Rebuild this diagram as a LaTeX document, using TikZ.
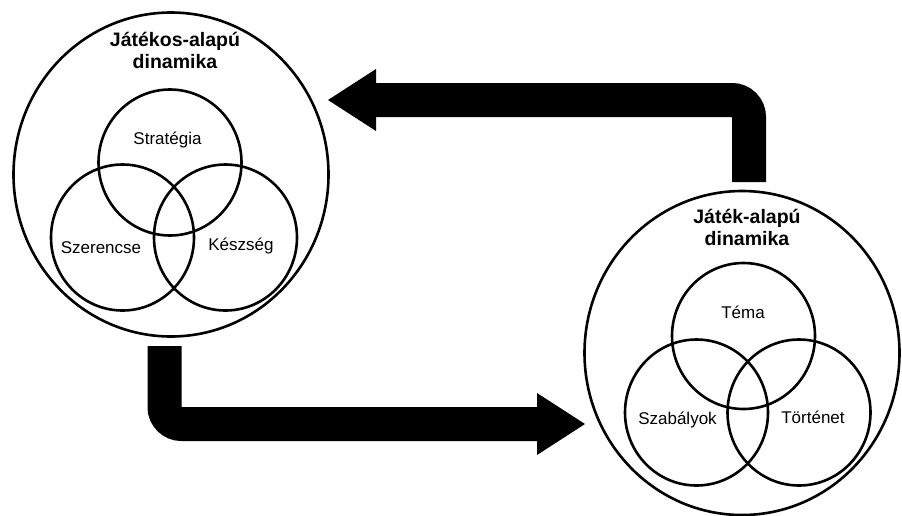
\documentclass[tikz,border=0pt]{standalone}
\usepackage{fontspec}
\setmainfont{Liberation Sans}
\usetikzlibrary{arrows.meta}
\usetikzlibrary{shapes.geometric}

\begin{document}
\begin{tikzpicture}[x=1pt, y=-1pt,
		big/.style={ellipse, draw, line width=2.6pt, minimum width=315pt, minimum height=324pt, inner sep=0pt},
		small/.style={ellipse, draw, line width=2.6pt, minimum width=143pt, minimum height=146pt, inner sep=0pt},
		lbl/.style={font=\fontsize{17}{20}\selectfont, inner sep=0pt, text height=12pt, text depth=0pt},
		ttl/.style={font=\bfseries\fontsize{19.5}{21.6}\selectfont, align=center, inner sep=0pt, anchor=base},
		flow/.style={line width=34pt, rounded corners=17pt, -{Triangle[length=48pt, width=62pt, line width=0pt]}}]
			\useasboundingbox (0,0) rectangle (902,515);
			
			% left: player side
			\node[big] (0) at (171,174.5) {};
			\node[ttl] (1) at (175,68.3) {Játékos-alapú\\dinamika};
			\node[small] (2) at (170,162.5) {};
			\node[small] (3) at (122.5,237.5) {};
			\node[small] (4) at (225.5,237.5) {};
			\node[lbl] (5) at (167.5,138) {Stratégia};
			\node[lbl] (6) at (101,247) {Szerencse};
			\node[lbl] (7) at (241,244) {Készség};
			
			% right: game side
			\node[big] (A) at (742,353) {};
			\node[ttl] (B) at (747,245) {Játék-alapú\\dinamika};
			\node[small] (C) at (743.5,336) {};
			\node[small] (D) at (696.5,412.5) {};
			\node[small] (E) at (799,412.5) {};
			\node[lbl] (F) at (743,312) {Téma};
			\node[lbl] (G) at (677.5,418) {Szabályok};
			\node[lbl] (H) at (813,417) {Történet};
			
			\coordinate (0out) at (164.5,346);
			\coordinate (Ain) at (585,424);
			\coordinate (Aout) at (749,182);
			\coordinate (0in) at (328,100);
			
			\draw[flow] (0out) |- (Ain);
			\draw[flow] (Aout) |- (0in);
		\end{tikzpicture}
\end{document}
